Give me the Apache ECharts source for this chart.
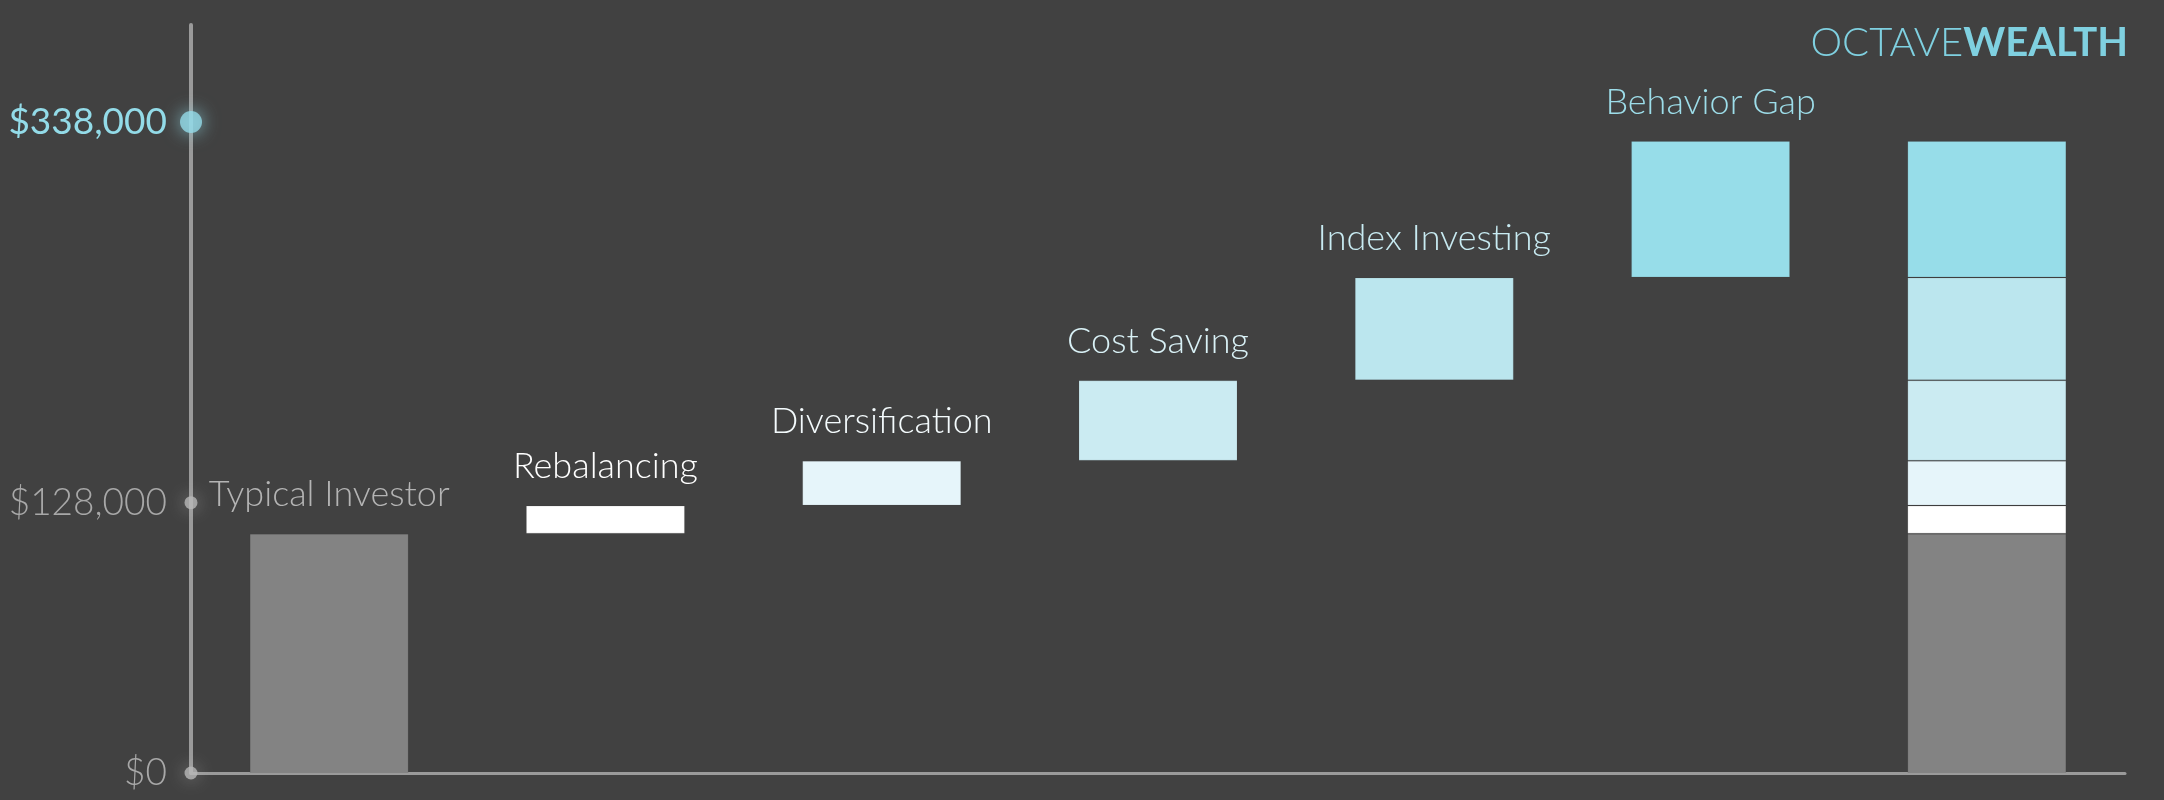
<!DOCTYPE html>
<html>
<head>
<meta charset="utf-8">
<script src="https://cdn.jsdelivr.net/npm/echarts@6/dist/echarts.min.js"></script>
<style>
  html, body { margin: 0; padding: 0; background: #414141; }
  #chart { width: 2164px; height: 800px; }
</style>
</head>
<body>
<div id="chart"></div>
<script>
// ---- data ----
const categories = ['Typical Investor', 'Rebalancing', 'Diversification', 'Cost Saving', 'Index Investing', 'Behavior Gap', 'Total'];
const components = ['Typical Investor', 'Rebalancing', 'Diversification', 'Cost Saving', 'Index Investing', 'Behavior Gap'];
const componentValues = [128000, 15000, 24000, 43000, 55000, 73000];
const yTickValues = [0, 128000, 338000];
const yTickLabels = ['$0', '$128,000', '$338,000'];
const logoParts = ['OCTAVE', 'WEALTH'];

// ---- styles ----
const barColors = ['#838383', '#ffffff', '#e6f5fa', '#cbebf2', '#bbe6ee', '#97dde9'];
const labelColors = ['#b4b4b4', '#ffffff', '#f4fbfd', '#d9f1f6', '#c8ebf2', '#9ddde9'];
const FONT = 'Lato, "Open Sans", sans-serif';

const chart = echarts.init(document.getElementById('chart'), null, { renderer: 'canvas' });

// cumulative bases for waterfall
const bases = [];
let run = 0;
components.forEach((c, i) => { bases.push(i === 0 ? 0 : run); run += componentValues[i]; });
const baseData = categories.map((c, i) => i < components.length ? bases[i] : 0);

const BW = 159;
const series = [{
  name: 'base', type: 'bar', stack: 'w', silent: true,
  data: baseData,
  itemStyle: { color: 'transparent' },
  barWidth: BW
}];

components.forEach((name, k) => {
  const data = categories.map((c, i) => (i === k || i === categories.length - 1) ? componentValues[k] : '-');
  series.push({
    name, type: 'bar', stack: 'w', barWidth: BW,
    data,
    itemStyle: { color: barColors[k], borderColor: 'rgba(60,60,60,0.12)', borderWidth: 1 },
    label: {
      show: true, position: 'top', distance: 21,
      fontFamily: FONT, fontSize: 36, fontWeight: 300, color: labelColors[k],
      formatter: p => p.dataIndex === categories.length - 1 ? '' : name
    }
  });
});

// y tick dots on the axis
const dotStyles = [
  { size: 13, color: '#b8b8b8', glow: 'rgba(220,220,220,0.6)', offset: 0 },
  { size: 13, color: '#b8b8b8', glow: 'rgba(220,220,220,0.6)', offset: -31 },
  { size: 22, color: '#93dbe8', glow: 'rgba(147,219,232,0.9)', offset: -19 }
];
series.push({
  type: 'scatter', xAxisIndex: 1, yAxisIndex: 0, silent: true, clip: false, z: 10,
  data: yTickValues.map((v, i) => ({
    value: [0, v],
    symbolSize: dotStyles[i].size,
    symbolOffset: [0, dotStyles[i].offset],
    itemStyle: { color: dotStyles[i].color, shadowBlur: 18, shadowColor: dotStyles[i].glow }
  }))
});

const option = {
  backgroundColor: '#414141',
  animation: false,
  title: {
    text: '{a|' + logoParts[0] + '}{b|' + logoParts[1] + '}',
    right: 31, top: 18,
    textStyle: {
      rich: {
        a: { fontFamily: FONT, fontSize: 40, fontWeight: 300, color: '#7fd0e0' },
        b: { fontFamily: FONT, fontSize: 40, fontWeight: 'bold', color: '#7fd0e0' }
      }
    }
  },
  grid: { left: 191, right: 39, top: 25, bottom: 27 },
  xAxis: [{
    type: 'category', data: categories,
    axisLine: { show: true, lineStyle: { color: '#9a9a9a', width: 3 } },
    axisTick: { show: false }, axisLabel: { show: false }, splitLine: { show: false }
  }, {
    type: 'value', min: 0, max: 1, show: false
  }],
  yAxis: [{
    type: 'value', min: 0, max: 400000,
    axisLine: { show: true, onZero: false, lineStyle: { color: '#9a9a9a', width: 4 } },
    axisTick: { show: false }, splitLine: { show: false },
    axisLabel: {
      show: true, customValues: yTickValues, margin: 24,
      formatter: v => {
        const i = yTickValues.indexOf(v);
        const key = ['z', 'm', 't'][i];
        return '{' + key + '|' + yTickLabels[i] + '}';
      },
      rich: {
        z: { fontFamily: FONT, fontSize: 37, fontWeight: 300, color: '#a8a8a8' },
        m: { fontFamily: FONT, fontSize: 37, fontWeight: 300, color: '#a8a8a8', padding: [0, 0, 62, 0] },
        t: { fontFamily: FONT, fontSize: 37, fontWeight: 'normal', color: '#93dbe8', padding: [0, 0, 38, 0] }
      }
    }
  }],
  series
};
chart.setOption(option);
</script>
</body>
</html>
